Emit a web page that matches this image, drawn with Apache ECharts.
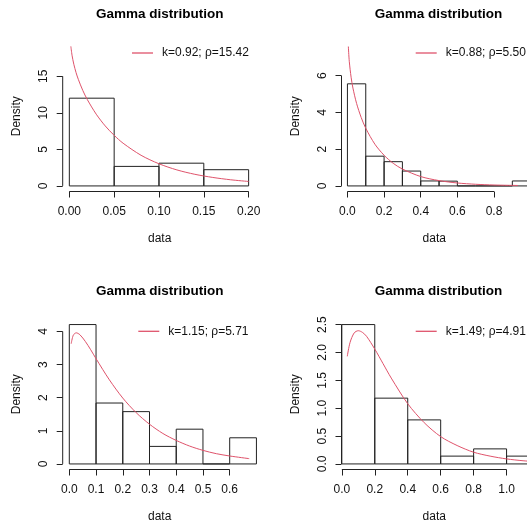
<!DOCTYPE html>
<html>
<head>
<meta charset="utf-8">
<script src="https://cdn.jsdelivr.net/npm/echarts@6/dist/echarts.min.js"></script>
<style>
  html, body { margin: 0; padding: 0; background: #fff; }
  #chart { width: 527px; height: 526px; }
</style>
</head>
<body>
<div id="chart"></div>
<script>
// ---------------- DATA ----------------
const titleText = 'Gamma distribution';
const xName = 'data';
const yName = 'Density';

// Panel 1
const p1Edges = [0, 0.05, 0.10, 0.15, 0.20];
const p1Density = [12.0, 2.67, 3.11, 2.22];
const p1CurveX = [0.0017, 0.003, 0.005, 0.0075, 0.01, 0.015, 0.02, 0.03, 0.04, 0.05, 0.06, 0.08, 0.10, 0.12, 0.14, 0.16, 0.18, 0.20];
const p1CurveY = [19.09, 17.88, 16.64, 15.50, 14.58, 13.06, 11.82, 9.81, 8.21, 6.92, 5.84, 4.19, 3.03, 2.19, 1.59, 1.16, 0.84, 0.61];
const p1XTicks = [0, 0.05, 0.10, 0.15, 0.20];
const p1XLabels = ['0.00', '0.05', '0.10', '0.15', '0.20'];
const p1YTicks = [0, 5, 10, 15];
const p1YLabels = ['0', '5', '10', '15'];
const p1Legend = 'k=0.92; ρ=15.42';

// Panel 2
const p2Edges = [0, 0.1, 0.2, 0.3, 0.4, 0.5, 0.6, 0.7, 0.8, 0.9, 1.0];
const p2Density = [5.56, 1.62, 1.32, 0.81, 0.27, 0.26, 0, 0, 0, 0.27];
const p2CurveX = [0.005, 0.01, 0.02, 0.03, 0.05, 0.075, 0.10, 0.15, 0.20, 0.25, 0.30, 0.40, 0.50, 0.60, 0.70, 0.80, 0.93];
const p2CurveY = [7.59, 6.79, 5.92, 5.33, 4.49, 3.73, 3.14, 2.27, 1.67, 1.23, 0.92, 0.51, 0.29, 0.16, 0.09, 0.05, 0.025];
const p2XTicks = [0, 0.2, 0.4, 0.6, 0.8];
const p2XLabels = ['0.0', '0.2', '0.4', '0.6', '0.8'];
const p2YTicks = [0, 2, 4, 6];
const p2YLabels = ['0', '2', '4', '6'];
const p2Legend = 'k=0.88; ρ=5.50';

// Panel 3
const p3Edges = [0, 0.1, 0.2, 0.3, 0.4, 0.5, 0.6, 0.7];
const p3Density = [4.21, 1.84, 1.58, 0.53, 1.05, 0, 0.79];
const p3CurveX = [0.007, 0.015, 0.026, 0.04, 0.06, 0.08, 0.10, 0.15, 0.20, 0.25, 0.30, 0.35, 0.40, 0.45, 0.50, 0.55, 0.60, 0.673];
const p3CurveY = [3.63, 3.89, 3.96, 3.90, 3.70, 3.45, 3.18, 2.54, 1.99, 1.55, 1.20, 0.92, 0.71, 0.54, 0.41, 0.31, 0.24, 0.16];
const p3XTicks = [0, 0.1, 0.2, 0.3, 0.4, 0.5, 0.6];
const p3XLabels = ['0.0', '0.1', '0.2', '0.3', '0.4', '0.5', '0.6'];
const p3YTicks = [0, 1, 2, 3, 4];
const p3YLabels = ['0', '1', '2', '3', '4'];
const p3Legend = 'k=1.15; ρ=5.71';

// Panel 4
const p4Edges = [0, 0.2, 0.4, 0.6, 0.8, 1.0, 1.2];
const p4Density = [2.50, 1.18, 0.79, 0.14, 0.27, 0.14];
const p4CurveX = [0.033, 0.05, 0.075, 0.10, 0.125, 0.15, 0.20, 0.25, 0.30, 0.40, 0.50, 0.60, 0.70, 0.80, 0.90, 1.00, 1.10, 1.20];
const p4CurveY = [1.93, 2.18, 2.35, 2.39, 2.36, 2.29, 2.06, 1.80, 1.54, 1.08, 0.74, 0.49, 0.33, 0.21, 0.14, 0.09, 0.057, 0.037];
const p4XTicks = [0, 0.2, 0.4, 0.6, 0.8, 1.0];
const p4XLabels = ['0.0', '0.2', '0.4', '0.6', '0.8', '1.0'];
const p4YTicks = [0, 0.5, 1.0, 1.5, 2.0, 2.5];
const p4YLabels = ['0.0', '0.5', '1.0', '1.5', '2.0', '2.5'];
const p4Legend = 'k=1.49; ρ=4.91';

// ---------------- LAYOUT / STYLE ----------------
const FONT = '"Liberation Sans", Arial, Helvetica, sans-serif';
const INK = '#222';
const TXT = '#111';
const CURVE = '#DF536B';
const GW = 194, GH = 150.5;

const panels = [
  { edges: p1Edges, dens: p1Density, cx: p1CurveX, cy: p1CurveY, xt: p1XTicks, xl: p1XLabels, yt: p1YTicks, yl: p1YLabels, leg: p1Legend,
    left: 62.7, top: 41, xMin: -0.0074, xMax: 0.209, yMin: -0.762, yMax: 19.82, legLeft: 132, legTop: 47, titleTop: 7 },
  { edges: p2Edges, dens: p2Density, cx: p2CurveX, cy: p2CurveY, xt: p2XTicks, xl: p2XLabels, yt: p2YTicks, yl: p2YLabels, leg: p2Legend,
    left: 341.5, top: 41, xMin: -0.0324, xMax: 0.980, yMin: -0.3035, yMax: 7.892, legLeft: 415.7, legTop: 47, titleTop: 7 },
  { edges: p3Edges, dens: p3Density, cx: p3CurveX, cy: p3CurveY, xt: p3XTicks, xl: p3XLabels, yt: p3YTicks, yl: p3YLabels, leg: p3Legend,
    left: 62.7, top: 319, xMin: -0.0247, xMax: 0.701, yMin: -0.168, yMax: 4.378, legLeft: 138.3, legTop: 325.3, titleTop: 284.6 },
  { edges: p4Edges, dens: p4Density, cx: p4CurveX, cy: p4CurveY, xt: p4XTicks, xl: p4XLabels, yt: p4YTicks, yl: p4YLabels, leg: p4Legend,
    left: 341.5, top: 319, xMin: -0.002, xMax: 1.124, yMin: -0.1, yMax: 2.6, legLeft: 415.7, legTop: 325.3, titleTop: 284.6 }
];

const option = {
  animation: false,
  backgroundColor: '#fff',
  textStyle: { fontFamily: FONT },
  title: [], legend: [], grid: [], xAxis: [], yAxis: [], series: []
};

panels.forEach((p, i) => {
  option.title.push({
    text: titleText, left: p.left + GW / 2, top: p.titleTop, textAlign: 'center', padding: 0,
    textStyle: { fontFamily: FONT, fontSize: 13.5, fontWeight: 'bold', color: '#000' }
  });
  option.legend.push({
    data: [p.leg], left: p.legLeft, top: p.legTop, padding: 0, icon: 'rect',
    itemWidth: 21, itemHeight: 1.3, selectedMode: false,
    textStyle: { fontFamily: FONT, fontSize: 12, color: TXT, padding: [0, 0, 0, 4] }
  });
  option.grid.push({ left: p.left, top: p.top, width: GW, height: GH });
  option.xAxis.push({
    type: 'value', gridIndex: i, min: p.xMin, max: p.xMax, position: 'bottom',
    splitLine: { show: false }, axisLine: { show: false, onZero: false },
    axisTick: { show: true, inside: false, length: 6, customValues: p.xt, lineStyle: { color: INK, width: 1 } },
    axisLabel: { customValues: p.xt, margin: 14, fontSize: 12, color: TXT, fontFamily: FONT,
      formatter: v => { const k = p.xt.findIndex(t => Math.abs(t - v) < 1e-9); return k >= 0 ? p.xl[k] : ''; } },
    name: xName, nameLocation: 'middle', nameGap: 41,
    nameTextStyle: { fontSize: 12, color: TXT, fontFamily: FONT }
  });
  option.yAxis.push({
    type: 'value', gridIndex: i, min: p.yMin, max: p.yMax, position: 'left',
    splitLine: { show: false }, axisLine: { show: false, onZero: false },
    axisTick: { show: true, inside: false, length: 6, customValues: p.yt, lineStyle: { color: INK, width: 1 } },
    axisLabel: { customValues: p.yt, margin: 13, rotate: 90, fontSize: 12, color: TXT, fontFamily: FONT,
      formatter: v => { const k = p.yt.findIndex(t => Math.abs(t - v) < 1e-9); return k >= 0 ? p.yl[k] : ''; } },
    name: yName, nameLocation: 'middle', nameGap: 40,
    nameTextStyle: { fontSize: 12, color: TXT, fontFamily: FONT }
  });
  // histogram bars
  const barData = p.dens.map((d, j) => [p.edges[j], p.edges[j + 1], d]);
  option.series.push({
    type: 'custom', xAxisIndex: i, yAxisIndex: i, clip: true, silent: true,
    data: barData, encode: { x: [0, 1], y: 2 },
    renderItem: (params, api) => {
      const a = api.coord([api.value(0), api.value(2)]);
      const b = api.coord([api.value(1), 0]);
      return { type: 'rect', shape: { x: a[0], y: a[1], width: b[0] - a[0], height: b[1] - a[1] },
        style: { fill: 'none', stroke: INK, lineWidth: 1 } };
    }
  });
  // R-style axis lines spanning first..last tick
  option.series.push({
    type: 'custom', xAxisIndex: i, yAxisIndex: i, clip: false, silent: true,
    data: [[p.xt[0], p.yt[0]]],
    renderItem: (params, api) => {
      const x0 = api.coord([p.xt[0], p.yMin]);
      const x1 = api.coord([p.xt[p.xt.length - 1], p.yMin]);
      const y0 = api.coord([p.xMin, p.yt[0]]);
      const y1 = api.coord([p.xMin, p.yt[p.yt.length - 1]]);
      return { type: 'group', children: [
        { type: 'line', shape: { x1: x0[0], y1: x0[1], x2: x1[0], y2: x1[1] }, style: { stroke: INK, lineWidth: 1 } },
        { type: 'line', shape: { x1: y0[0], y1: y0[1], x2: y1[0], y2: y1[1] }, style: { stroke: INK, lineWidth: 1 } }
      ] };
    }
  });
  // fitted density curve
  option.series.push({
    name: p.leg, type: 'line', xAxisIndex: i, yAxisIndex: i,
    data: p.cx.map((x, j) => [x, p.cy[j]]),
    showSymbol: false, symbol: 'none', smooth: 0.3, clip: true, silent: true,
    lineStyle: { color: CURVE, width: 1 }, itemStyle: { color: CURVE }
  });
});

const chart = echarts.init(document.getElementById('chart'), null, { renderer: 'canvas' });
chart.setOption(option);
</script>
</body>
</html>
